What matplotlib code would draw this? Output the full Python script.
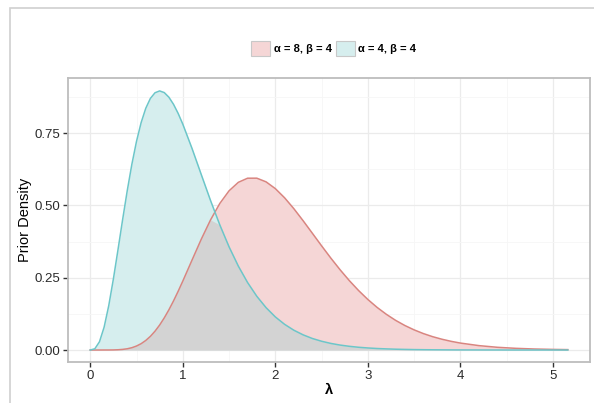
import numpy as np
import matplotlib.pyplot as plt
from matplotlib.patches import Patch, Rectangle
from matplotlib.ticker import MultipleLocator

plt.rcParams['font.family'] = ['Liberation Sans', 'DejaVu Sans']

# lambda values read along the x axis
lam = [0, 0.05, 0.1, 0.15, 0.2, 0.25, 0.3, 0.35, 0.4, 0.45, 0.5, 0.55, 0.6, 0.65,
       0.7, 0.75, 0.8, 0.85, 0.9, 0.95, 1.0,
       1.1, 1.2, 1.3, 1.4, 1.5, 1.6, 1.7, 1.8, 1.9, 2.0,
       2.1, 2.2, 2.3, 2.4, 2.5, 2.6, 2.7, 2.8, 2.9, 3.0,
       3.1, 3.2, 3.3, 3.4, 3.5, 3.6, 3.7, 3.8, 3.9, 4.0,
       4.2, 4.4, 4.6, 4.8, 5.0, 5.16]

# prior density, alpha = 8, beta = 4
dens_a8 = [0, 0, 0, 0.0001, 0.0001, 0.0003, 0.0009, 0.0021, 0.0043, 0.0080, 0.0138,
           0.0219, 0.0330, 0.0473, 0.0651, 0.0864, 0.1112, 0.1391, 0.1699, 0.2031, 0.2382,
           0.3111, 0.3834, 0.4501, 0.5069, 0.5507, 0.5800, 0.5943, 0.5944, 0.5817, 0.5583,
           0.5266, 0.4889, 0.4473, 0.4039, 0.3603, 0.3178, 0.2775, 0.2399, 0.2056, 0.1747,
           0.1473, 0.1234, 0.1025, 0.0847, 0.0696, 0.0568, 0.0461, 0.0373, 0.0300, 0.0240,
           0.0152, 0.0094, 0.0058, 0.0035, 0.0021, 0.0014]

# prior density, alpha = 4, beta = 4
dens_a4 = [0, 0.0044, 0.0286, 0.0790, 0.1534, 0.2453, 0.3470, 0.4511, 0.5513, 0.6427, 0.7218,
           0.7866, 0.8361, 0.8703, 0.8899, 0.8962, 0.8905, 0.8745, 0.8499, 0.8184, 0.7815,
           0.6972, 0.6068, 0.5171, 0.4329, 0.3570, 0.2904, 0.2335, 0.1858, 0.1465, 0.1145,
           0.0889, 0.0685, 0.0525, 0.0399, 0.0303, 0.0228, 0.0171, 0.0128, 0.0095, 0.0071,
           0.0052, 0.0039, 0.0028, 0.0021, 0.0015, 0.0011, 0.0008, 0.0006, 0.0004, 0.0003,
           0.0002, 0.0001, 0, 0, 0, 0]

labels = ['α = 8, β = 4', 'α = 4, β = 4']
yticks = [0, 0.25, 0.5, 0.75]
ytick_labels = ['0.00', '0.25', '0.50', '0.75']
xticks = [0, 1, 2, 3, 4, 5]

x = np.array(lam)
y8 = np.array(dens_a8)
y4 = np.array(dens_a4)

fig = plt.figure(figsize=(5.94, 4.03), dpi=100)
ax = fig.add_axes([0.1145, 0.1017, 0.8788, 0.7048])

# screenshot frame
fig.patches.append(Rectangle((9.5 / 594, -0.1), 2, 1.1 - 8 / 403,
                             transform=fig.transFigure, fill=False,
                             edgecolor='#d0d0d0', linewidth=1.2, zorder=0))

ax.fill_between(x, 0, y8, color='#f5d6d6', linewidth=0, zorder=2)
ax.fill_between(x, 0, y4, color='#d6eeee', linewidth=0, zorder=2)
ax.fill_between(x, 0, np.minimum(y8, y4), color='#d3d3d3', linewidth=0, zorder=3)
ax.plot(x, y8, color='#d98580', linewidth=1.1, zorder=4)
ax.plot(x, y4, color='#6cc6c9', linewidth=1.1, zorder=5)

ax.set_xlim(-0.24, 5.40)
ax.set_ylim(-0.0415, 0.941)
ax.xaxis.set_minor_locator(MultipleLocator(0.5))
ax.yaxis.set_minor_locator(MultipleLocator(0.125))
ax.set_yticks(yticks)
ax.set_yticklabels(ytick_labels)
ax.set_xticks(xticks)
ax.set_xticklabels([str(v) for v in xticks])

ax.grid(True, which='major', color='#ebebeb', linewidth=0.9, zorder=0)
ax.grid(True, which='minor', color='#f6f6f6', linewidth=0.6, zorder=0)
ax.set_axisbelow(True)
ax.tick_params(which='major', direction='out', length=3.5, width=1,
               color='#333333', labelsize=9.5, labelcolor='#2a2a2a', pad=2)
ax.tick_params(which='minor', length=0)
for s in ax.spines.values():
    s.set_color('#bdbdbd')
    s.set_linewidth(1.3)

ax.set_xlabel('λ', fontsize=10.5, fontweight='bold', labelpad=1)
ax.set_ylabel('Prior Density', fontsize=10.5, labelpad=2)

handles = [Patch(facecolor='#f5d6d6', edgecolor='#c8c8c8', linewidth=0.8),
           Patch(facecolor='#d6eeee', edgecolor='#c8c8c8', linewidth=0.8)]
fig.legend(handles, labels, loc='center', bbox_to_anchor=(0.562, 0.879), ncol=2,
           frameon=False, fontsize=8, handlelength=1.7, handleheight=1.7,
           handletextpad=0.3, columnspacing=0.4, prop={'weight': 'bold', 'size': 8})

fig.savefig('out.png', dpi=100)
